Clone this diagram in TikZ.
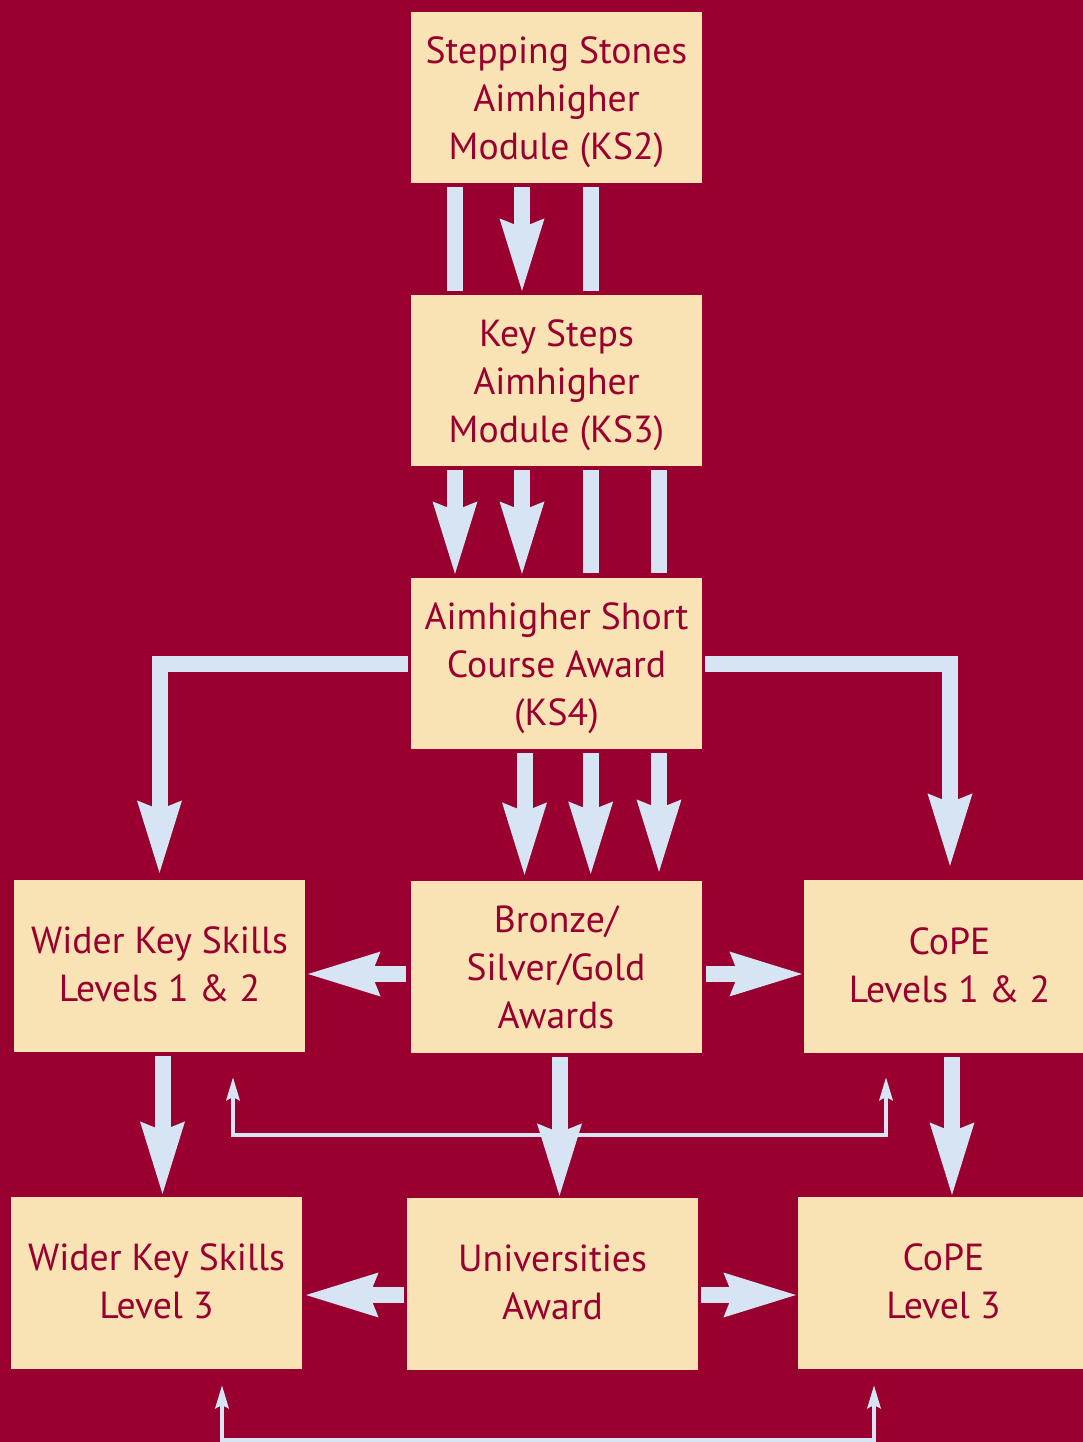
\documentclass[tikz,border=0pt]{standalone}
\usepackage{fontspec}
\setmainfont{PT Sans}
\usetikzlibrary{arrows.meta,calc}
\definecolor{bgred}{RGB}{153,0,48}
\definecolor{boxfill}{RGB}{249,227,180}
\definecolor{arrowblue}{RGB}{214,228,243}
\newcommand\btext[2]{\raisebox{-#1pt}[0pt][0pt]{\begin{tabular}{@{}c@{}}#2\end{tabular}}}
\begin{document}
\begin{tikzpicture}[x=1pt,y=-1pt,
  box/.style={fill=boxfill, minimum width=291pt, minimum height=171pt, inner sep=0pt,
    text=bgred, font=\fontsize{37.7}{48}\selectfont},
  bigarrow/.style={draw=arrowblue, line width=16pt, line join=miter,
    -{Stealth[length=72pt,width=40pt,inset=6pt]}},
  bar/.style={draw=arrowblue, line width=16pt},
  thinarrow/.style={draw=arrowblue, line width=4.5pt, line join=miter,
    {Stealth[length=23pt,width=13pt,inset=3pt]}-{Stealth[length=23pt,width=13pt,inset=3pt]}},
]
\fill[bgred] (0,0) rectangle (1083,1442);
\useasboundingbox (0,0) rectangle (1083,1442);

% thin connectors (behind)
\coordinate (tl) at (233,1077);
\coordinate (tr) at (886,1077);
\coordinate (bl) at (222,1385);
\coordinate (br) at (874,1385);
\draw[thinarrow] (tl) -- (233,1135) -- (886,1135) -- (tr);
\draw[thinarrow] (bl) -- (222,1440) -- (874,1440) -- (br);

% boxes
\node[box] (b1) at (556.5,97.5) {\btext{10.9}{Stepping Stones\\Aimhigher\\Module (KS2)}};
\node[box] (b2) at (556.5,380.5) {\btext{10.9}{Key Steps\\Aimhigher\\Module (KS3)}};
\node[box] (b3) at (556.5,663.5) {\btext{10.9}{Aimhigher Short\\Course Award\\(KS4)}};
\node[box, minimum height=172pt] (b4) at (159.5,966) {\btext{8.2}{Wider Key Skills\\Levels 1 \& 2}};
\node[box, minimum height=172pt] (b5) at (556,967) {\btext{10.4}{Bronze/\\Silver/Gold\\Awards}};
\node[box, minimum height=173pt] (b6) at (949.5,966.5) {\btext{8.2}{CoPE\\Levels 1 \& 2}};
\node[box, minimum height=172pt] (b7) at (156.5,1283) {\btext{7.9}{Wider Key Skills\\Level 3}};
\node[box, minimum height=172pt] (b8) at (552.5,1284) {\btext{7.9}{Universities\\Award}};
\node[box, minimum height=172pt] (b9) at (943.5,1283) {\btext{7.9}{CoPE\\Level 3}};

% b1 -> b2
\draw[bar] ($(b1.south)+(-102,4)$) -- ($(b2.north)+(-102,-4)$);
\draw[bigarrow] ($(b1.south)+(-34.5,4)$) -- ($(b2.north)+(-34.5,-1)$);
\draw[bar] ($(b1.south)+(34.5,4)$) -- ($(b2.north)+(34.5,-4)$);

% b2 -> b3
\draw[bigarrow] ($(b2.south)+(-101.5,4)$) -- ($(b3.north)+(-101.5,-1)$);
\draw[bigarrow] ($(b2.south)+(-34.5,4)$) -- ($(b3.north)+(-34.5,-1)$);
\draw[bar] ($(b2.south)+(34.5,4)$) -- ($(b3.north)+(34.5,-5)$);
\draw[bar] ($(b2.south)+(102.5,4)$) -- ($(b3.north)+(102.5,-5)$);

% b3 -> b5
\draw[bigarrow] ($(b3.south)+(-32,4)$) -- ($(b5.north)+(-31.5,-3)$);
\draw[bigarrow] ($(b3.south)+(34.2,4)$) -- ($(b5.north)+(34.7,-4)$);
\draw[bigarrow] ($(b3.south)+(102.5,4)$) -- ($(b5.north)+(103,-6)$);

% b3 -> b4, b3 -> b6
\draw[bigarrow] ($(b3.west)+(-3,0)$) -| ($(b4.north)+(0,-4)$);
\draw[bigarrow] ($(b3.east)+(3,0)$) -| ($(b6.north)+(0.5,-11)$);

% b5 -> b4, b5 -> b6
\draw[bigarrow] ($(b5.west)+(-4,7)$) -- ($(b4.east)+(0,8)$);
\draw[bigarrow] ($(b5.east)+(4,7)$) -- ($(b6.west)+(1,7.5)$);

% downward to bottom row
\draw[bigarrow] ($(b4.south)+(3,4)$) -- ($(b7.north)+(6,0)$);
\draw[bigarrow] ($(b5.south)+(3.5,4)$) -- ($(b8.north)+(7,1)$);
\draw[bigarrow] ($(b6.south)+(2.5,4)$) -- ($(b9.north)+(8.5,1)$);

% b8 -> b7, b8 -> b9
\draw[bigarrow] ($(b8.west)+(-3,11)$) -- ($(b7.east)+(1,12)$);
\draw[bigarrow] ($(b8.east)+(3,11)$) -- ($(b9.west)+(1,12)$);
\end{tikzpicture}
\end{document}
